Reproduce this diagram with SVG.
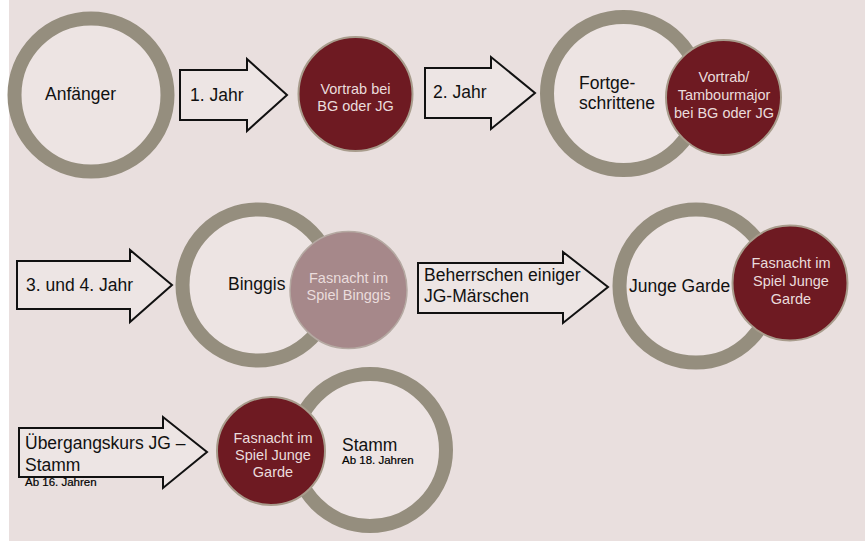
<svg xmlns="http://www.w3.org/2000/svg" width="865" height="542" viewBox="0 0 865 542">
<style>
.ring{fill:#EDE4E3;stroke:#958E7E;stroke-width:14}
.red{fill:#6E1A22;stroke:#A89C8C;stroke-width:2}
.pink{fill:#A6888A;stroke:#B5A9A2;stroke-width:1.5}
.arr{fill:#EDE5E4;stroke:#111;stroke-width:2;stroke-linejoin:miter}
.t{font-family:"Liberation Sans",Arial,sans-serif;fill:#111}
.big{font-size:17.5px}
.w{font-family:"Liberation Sans",Arial,sans-serif;fill:#EADCDC;font-size:14.5px;text-anchor:middle}
.sm{font-family:"Liberation Sans",Arial,sans-serif;fill:#000;font-size:11.5px;stroke:#000;stroke-width:0.2}
</style>
<rect x="0" y="0" width="865" height="542" fill="#FFFFFF"/>
<rect x="9" y="0" width="856" height="541" fill="#E9DFDE"/>

<g id="connectors">
  <polygon class="arr" points="180,70 247,70 247,59 287,95 247,131 247,120 180,120"/>
  <text class="t big" x="190" y="101">1. Jahr</text>
  <polygon class="arr" points="425,68 491,68 491,57 535,93 491,129 491,118 425,118"/>
  <text class="t big" x="433" y="98">2. Jahr</text>
  <polygon class="arr" points="17,261 130,261 130,250 172,285 130,322 130,309 17,309"/>
  <text class="t big" x="26" y="291">3. und 4. Jahr</text>
  <polygon class="arr" points="418,263 563,263 563,252 608,287 563,323 563,313 418,313"/>
  <text class="t big" x="424" y="281">Beherrschen einiger</text>
  <text class="t big" x="424" y="302">JG-Märschen</text>
  <polygon class="arr" points="19,428 163,428 163,417 207,452 163,488 163,477 19,477"/>
  <text class="t big" x="25" y="449">Übergangskurs JG –</text>
  <text class="t big" x="25" y="471">Stamm</text>
  <text class="sm" x="25" y="486">Ab 16. Jahren</text>
</g>

<g id="anfaenger">
  <circle class="ring" cx="91" cy="95" r="76.5"/>
  <text class="t big" x="45" y="100">Anfänger</text>
</g>

<g id="vortrab">
  <circle class="red" cx="355.5" cy="94" r="57"/>
  <text class="w" x="355.5" y="94">Vortrab bei</text>
  <text class="w" x="355.5" y="111">BG oder JG</text>
</g>

<g id="fortgeschrittene">
  <circle class="ring" cx="623.5" cy="93.5" r="76.5"/>
  <text class="t big" x="579" y="89">Fortge-</text>
  <text class="t big" x="579" y="109">schrittene</text>
</g>

<g id="vortrab-tambourmajor">
  <circle class="red" cx="723.5" cy="97.5" r="57.5"/>
  <text class="w" x="724" y="82">Vortrab/</text>
  <text class="w" x="724" y="100">Tambourmajor</text>
  <text class="w" x="724" y="118">bei BG oder JG</text>
</g>

<g id="binggis">
  <circle class="ring" cx="258" cy="285" r="75.5"/>
  <text class="t big" x="228" y="290">Binggis</text>
</g>

<g id="fasnacht-binggis">
  <circle class="pink" cx="348.5" cy="290" r="58.5"/>
  <text class="w" x="348.5" y="283">Fasnacht im</text>
  <text class="w" x="348.5" y="300">Spiel Binggis</text>
</g>

<g id="junge-garde">
  <circle class="ring" cx="696" cy="286" r="76.5"/>
  <text class="t big" x="629" y="292">Junge Garde</text>
</g>

<g id="fasnacht-jg">
  <circle class="red" cx="790" cy="283" r="57.5"/>
  <text class="w" x="791" y="268">Fasnacht im</text>
  <text class="w" x="791" y="286">Spiel Junge</text>
  <text class="w" x="791" y="304">Garde</text>
</g>

<g id="stamm">
  <circle class="ring" cx="370" cy="450" r="76"/>
  <text class="t big" x="342" y="451">Stamm</text>
  <text class="sm" x="342" y="464">Ab 18. Jahren</text>
</g>

<g id="fasnacht-jg-stamm">
  <circle class="red" cx="271" cy="451" r="54"/>
  <text class="w" x="273" y="443">Fasnacht im</text>
  <text class="w" x="273" y="460">Spiel Junge</text>
  <text class="w" x="273" y="477">Garde</text>
</g>
</svg>
